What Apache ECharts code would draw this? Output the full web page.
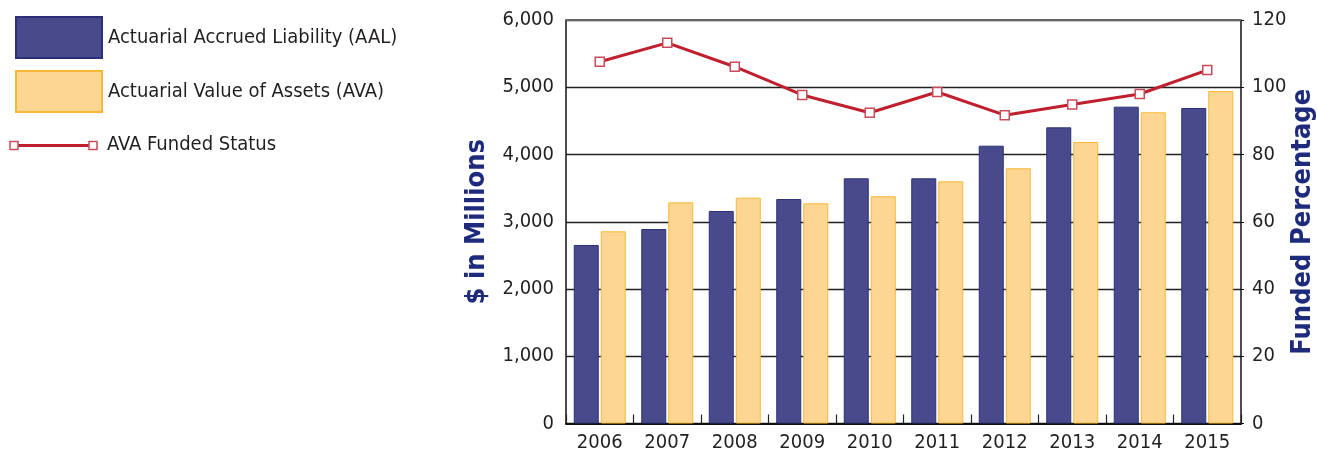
<!DOCTYPE html>
<html>
<head>
<meta charset="utf-8">
<script src="https://cdn.jsdelivr.net/npm/echarts@6/dist/echarts.min.js"></script>
<style>
html,body{margin:0;padding:0;background:#fff;overflow:hidden;}
#chart{width:1317px;height:453px;}
</style>
</head>
<body>
<div id="chart"></div>
<script>
var categories = ['2006','2007','2008','2009','2010','2011','2012','2013','2014','2015'];
var aalValues = [2655, 2892, 3160, 3338, 3646, 3646, 4131, 4404, 4711, 4691];
var avaValues = [2858, 3289, 3358, 3274, 3379, 3601, 3795, 4186, 4628, 4944];
var fundedValues = [107.6, 113.2, 106.1, 97.7, 92.4, 98.6, 91.7, 94.9, 98.0, 105.1];
var seriesNames = ['Actuarial Accrued Liability (AAL)', 'Actuarial Value of Assets (AVA)', 'AVA Funded Status'];
var leftAxisTitle = '$ in Millions';
var rightAxisTitle = 'Funded Percentage';

var FONT = "'Liberation Sans Narrow', 'DejaVu Sans Condensed', 'Arial Narrow', sans-serif";
var TXT = '#231f20';
var NAVY = '#1e2b7c';
var RED = '#c0202e';

var chart = echarts.init(document.getElementById('chart'), null, {renderer: 'canvas'});
var option = {
  animation: false,
  backgroundColor: '#fff',
  textStyle: {fontFamily: FONT},
  grid: {left: 566, right: 76, top: 20, bottom: 29.5, containLabel: false, outerBoundsMode: 'none'},
  legend: {
    orient: 'vertical', left: 10, top: 11,
    itemWidth: 86, itemHeight: 41, itemGap: 11,
    icon: 'rect',
    data: [seriesNames[0], seriesNames[1]],
    textStyle: {fontFamily: FONT, fontSize: 20, color: TXT, padding: [0, 0, 4, 1]}
  },
  graphic: [
    {type: 'line', shape: {x1: 14, y1: 145.5, x2: 93, y2: 145.5}, style: {stroke: RED, lineWidth: 3}},
    {type: 'rect', shape: {x: 10, y: 141.5, width: 8, height: 8}, style: {fill: '#fff', stroke: '#cc4a58', lineWidth: 1.5}},
    {type: 'rect', shape: {x: 89, y: 141.5, width: 8, height: 8}, style: {fill: '#fff', stroke: '#cc4a58', lineWidth: 1.5}},
    {type: 'text', left: 107, top: 135, style: {text: seriesNames[2], font: '20px ' + FONT, fill: TXT}},
    {type: 'line', shape: {x1: 566, y1: 20, x2: 1241, y2: 20}, style: {stroke: '#666', lineWidth: 2}, z: 3}
  ],
  xAxis: {
    type: 'category', data: categories, boundaryGap: true,
    axisLine: {show: true, lineStyle: {color: '#111', width: 2}},
    axisTick: {show: true, inside: true, length: 9, alignWithLabel: false, lineStyle: {color: '#222', width: 1.2}},
    axisLabel: {fontFamily: FONT, fontSize: 20, color: TXT, margin: 9},
    splitLine: {show: false}
  },
  yAxis: [
    {
      type: 'value', min: 0, max: 6000, interval: 1000, position: 'left',
      name: leftAxisTitle, nameLocation: 'middle', nameRotate: 90, nameGap: 76, nameMoveOverlap: false,
      nameTextStyle: {fontFamily: FONT, fontSize: 27, fontWeight: 'bold', color: NAVY},
      axisLine: {show: true, lineStyle: {color: '#111', width: 1.5}},
      axisTick: {show: false},
      axisLabel: {fontFamily: FONT, fontSize: 20, color: TXT, margin: 12,
        formatter: function (v) { return v.toLocaleString('en-US'); }},
      splitLine: {show: true, lineStyle: {color: '#222', width: 1.3}}
    },
    {
      type: 'value', min: 0, max: 120, interval: 20, position: 'right',
      name: rightAxisTitle, nameLocation: 'middle', nameRotate: 90, nameGap: 48, nameMoveOverlap: false,
      nameTextStyle: {fontFamily: FONT, fontSize: 27, fontWeight: 'bold', color: NAVY},
      axisLine: {show: true, lineStyle: {color: '#111', width: 1.5}},
      axisTick: {show: true, length: 3, lineStyle: {color: '#111'}},
      axisLabel: {fontFamily: FONT, fontSize: 20, color: TXT, margin: 11},
      splitLine: {show: false}
    }
  ],
  series: [
    {
      name: seriesNames[0], type: 'bar', data: aalValues, yAxisIndex: 0,
      barWidth: 25, barGap: '8%',
      itemStyle: {color: '#484a8b', borderColor: '#2b3079', borderWidth: 1}
    },
    {
      name: seriesNames[1], type: 'bar', data: avaValues, yAxisIndex: 0,
      barWidth: 25, barGap: '8%',
      itemStyle: {color: '#fdd693', borderColor: '#f7b835', borderWidth: 1}
    },
    {
      name: seriesNames[2], type: 'line', data: fundedValues, yAxisIndex: 1,
      symbol: 'rect', symbolSize: 9, showAllSymbol: true,
      lineStyle: {color: RED, width: 3},
      itemStyle: {color: '#fff', borderColor: '#cc4a58', borderWidth: 1.5},
      z: 5
    }
  ]
};
chart.setOption(option);
</script>
</body>
</html>
